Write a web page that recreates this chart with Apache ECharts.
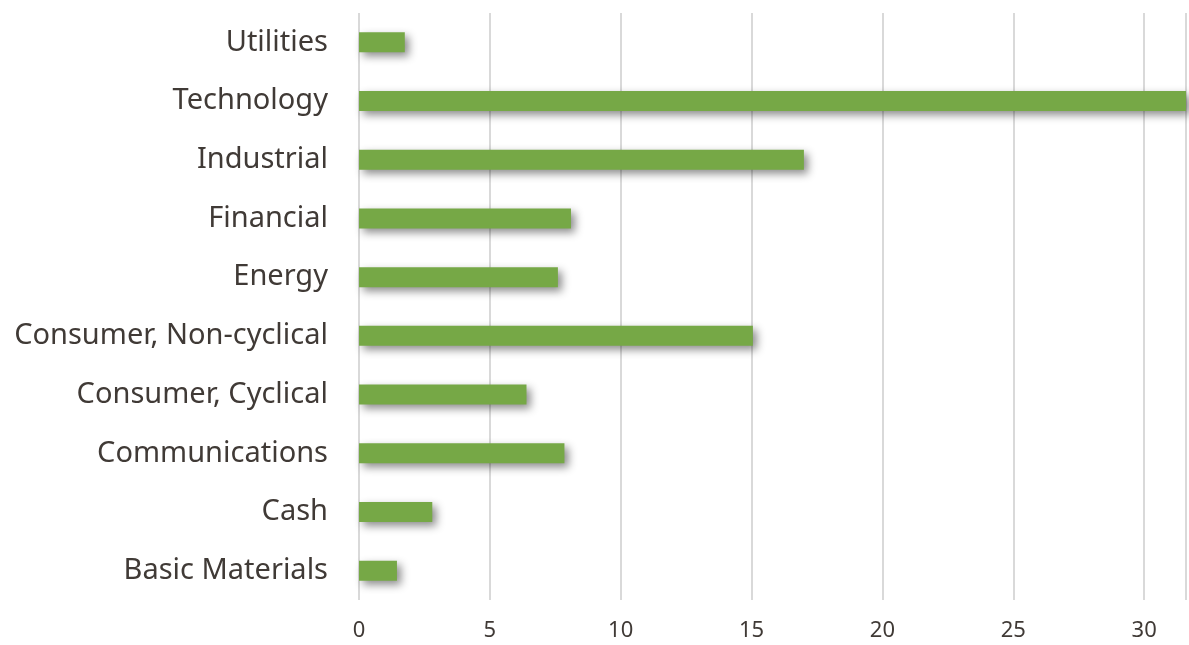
<!DOCTYPE html>
<html lang="en">
<head>
    <meta charset="UTF-8">
    <title>Sector Weights</title>
    <script src="https://cdn.jsdelivr.net/npm/echarts/dist/echarts.min.js"></script>
    <style>
        html, body {
            width: 100%;
            height: 100%;
            margin: 0;
            padding: 0;
            background: #fff;
        }
        #chart {
            width: 1189px;
            height: 645px;
        }
    </style>
</head>
<body>
<div id="chart"></div>
<script>
    // Sectors, bottom to top (category axis starts at the bottom)
    var sectors = ['Basic Materials', 'Cash', 'Communications', 'Consumer, Cyclical',
        'Consumer, Non-cyclical', 'Energy', 'Financial', 'Industrial', 'Technology', 'Utilities'];
    var weights = [1.45, 2.8, 7.85, 6.4, 15.05, 7.6, 8.1, 17.0, 31.6, 1.75];
    var tickValues = [0, 5, 10, 15, 20, 25, 30];

    var chart = echarts.init(document.getElementById('chart'));
    var labelFont = '"Noto Sans", "Open Sans", sans-serif';

    chart.setOption({
        backgroundColor: '#fff',
        animation: false,
        grid: { left: 359, right: 0, top: 13, bottom: 45 },
        xAxis: {
            type: 'value',
            min: 0,
            max: 31.6,
            interval: 5,
            axisLine: { show: false },
            axisTick: { show: false },
            splitLine: { show: true, lineStyle: { color: '#d9d9d9', width: 2 } },
            axisLabel: {
                margin: 20,
                fontSize: 22,
                color: '#403a36',
                fontFamily: labelFont,
                formatter: function (v) {
                    return tickValues.indexOf(v) >= 0 ? String(v) : '';
                }
            }
        },
        yAxis: {
            type: 'category',
            data: sectors,
            axisLine: { show: false },
            axisTick: { show: false },
            axisLabel: {
                margin: 31,
                fontSize: 29,
                color: '#403a36',
                fontFamily: labelFont
            }
        },
        series: [{
            type: 'bar',
            data: weights,
            barWidth: 20,
            itemStyle: {
                color: '#76a846',
                shadowColor: 'rgba(0,0,0,0.45)',
                shadowBlur: 8,
                shadowOffsetX: 4,
                shadowOffsetY: 4
            }
        }]
    });
</script>
</body>
</html>
